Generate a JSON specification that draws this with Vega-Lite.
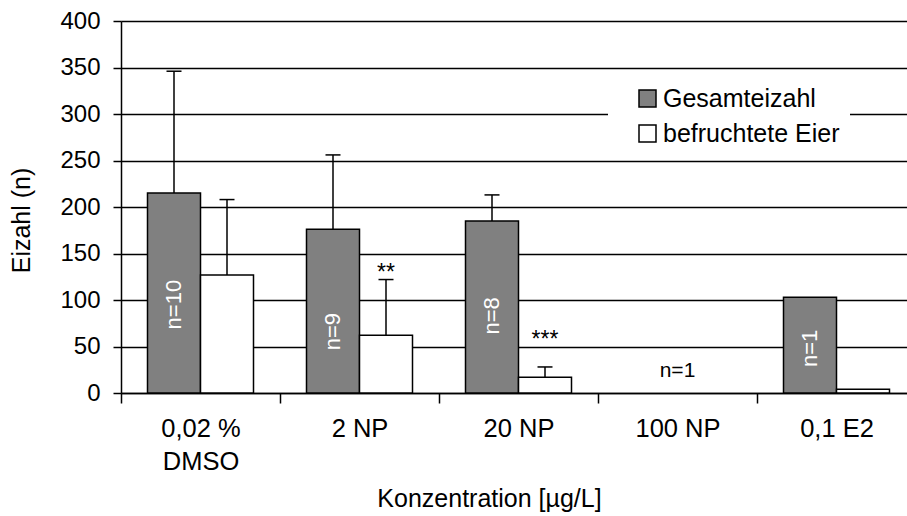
{
  "$schema": "https://vega.github.io/schema/vega-lite/v6.json",
  "width": 786,
  "height": 372,
  "autosize": {"type": "none"},
  "padding": {"left": 121, "top": 21, "right": 0, "bottom": 123},
  "background": "white",
  "config": {
    "font": "Liberation Sans",
    "view": {"stroke": null},
    "axis": {"labelColor": "black", "titleColor": "black", "titleFontWeight": "normal", "domainColor": "black", "tickColor": "black"}
  },
  "datasets": {
    "bars": [
      {"cat": "0,02 %\nDMSO", "series": "Gesamteizahl", "value": 215, "hi": 346},
      {"cat": "0,02 %\nDMSO", "series": "befruchtete Eier", "value": 127, "hi": 208},
      {"cat": "2 NP", "series": "Gesamteizahl", "value": 176, "hi": 256},
      {"cat": "2 NP", "series": "befruchtete Eier", "value": 62, "hi": 122},
      {"cat": "20 NP", "series": "Gesamteizahl", "value": 185, "hi": 213},
      {"cat": "20 NP", "series": "befruchtete Eier", "value": 17, "hi": 28},
      {"cat": "0,1 E2", "series": "Gesamteizahl", "value": 103, "hi": null},
      {"cat": "0,1 E2", "series": "befruchtete Eier", "value": 4, "hi": null}
    ],
    "nlabels": [
      {"cat": "0,02 %\nDMSO", "series": "Gesamteizahl", "label": "n=10", "pos": 95},
      {"cat": "2 NP", "series": "Gesamteizahl", "label": "n=9", "pos": 66},
      {"cat": "20 NP", "series": "Gesamteizahl", "label": "n=8", "pos": 83},
      {"cat": "0,1 E2", "series": "Gesamteizahl", "label": "n=1", "pos": 48}
    ],
    "stars": [
      {"cat": "2 NP", "series": "befruchtete Eier", "label": "**", "pos": 121},
      {"cat": "20 NP", "series": "befruchtete Eier", "label": "***", "pos": 49}
    ],
    "center": [
      {"cat": "100 NP", "label": "n=1", "pos": 17}
    ]
  },
  "layer": [
    {
      "data": {"name": "bars"},
      "mark": {"type": "bar", "stroke": "black", "strokeWidth": 1.5},
      "encoding": {
        "x": {
          "field": "cat", "type": "nominal", "sort": null,
          "scale": {"domain": ["0,02 %\nDMSO", "2 NP", "20 NP", "100 NP", "0,1 E2"], "range": [0, 795], "paddingInner": 0, "paddingOuter": 0},
          "axis": {
            "title": "Konzentration [µg/L]",
            "labelExpr": "split(datum.label, '\\n')",
            "labelFontSize": 25.5, "labelLineHeight": 33, "labelPadding": 13, "labelAngle": 0,
            "tickBand": "extent", "tickSize": 10, "tickWidth": 1.5,
            "domainWidth": 1.5, "grid": false,
            "titleFontSize": 25, "titlePadding": 12, "titleX": 368
          }
        },
        "xOffset": {"field": "series", "type": "nominal", "scale": {"domain": ["Gesamteizahl", "befruchtete Eier"], "paddingOuter": 0.5, "paddingInner": 0}},
        "y": {
          "field": "value", "type": "quantitative", "title": "Eizahl (n)",
          "scale": {"domain": [0, 400], "nice": false},
          "axis": {
            "values": [0, 50, 100, 150, 200, 250, 300, 350, 400],
            "grid": true, "gridColor": "black", "gridWidth": 1.3, "gridOpacity": 1,
            "tickSize": 8, "tickWidth": 1.5, "domainWidth": 1.5,
            "labelFontSize": 24, "labelPadding": 13,
            "titleFontSize": 25, "titlePadding": 25, "titleY": 199
          }
        },
        "color": {
          "field": "series", "type": "nominal",
          "scale": {"domain": ["Gesamteizahl", "befruchtete Eier"], "range": ["#808080", "#ffffff"]},
          "legend": {
            "orient": "none", "legendX": 487, "legendY": 55, "title": null,
            "fillColor": "white", "padding": 10,
            "symbolType": "square", "symbolSize": 289, "symbolStrokeColor": "black", "symbolStrokeWidth": 1.5,
            "labelFontSize": 25, "labelColor": "black", "labelLimit": 400, "rowPadding": 9, "labelOffset": 3, "symbolOffset": 17
          }
        }
      }
    },
    {
      "data": {"name": "bars"},
      "transform": [{"filter": "datum.hi != null"}],
      "mark": {"type": "rule", "color": "black", "strokeWidth": 1.5},
      "encoding": {
        "x": {"field": "cat", "type": "nominal", "sort": null},
        "xOffset": {"field": "series", "type": "nominal"},
        "y": {"field": "value", "type": "quantitative", "title": "Eizahl (n)"},
        "y2": {"field": "hi"}
      }
    },
    {
      "data": {"name": "bars"},
      "transform": [{"filter": "datum.hi != null"}],
      "mark": {"type": "tick", "color": "black", "size": 15, "thickness": 1.5, "opacity": 1},
      "encoding": {
        "x": {"field": "cat", "type": "nominal", "sort": null},
        "xOffset": {"field": "series", "type": "nominal"},
        "y": {"field": "hi", "type": "quantitative", "title": "Eizahl (n)"}
      }
    },
    {
      "data": {"name": "nlabels"},
      "mark": {"type": "text", "angle": 270, "align": "center", "baseline": "middle", "color": "white", "fontSize": 22},
      "encoding": {
        "x": {"field": "cat", "type": "nominal", "sort": null},
        "xOffset": {"field": "series", "type": "nominal"},
        "y": {"field": "pos", "type": "quantitative", "title": "Eizahl (n)"},
        "text": {"field": "label"}
      }
    },
    {
      "data": {"name": "stars"},
      "mark": {"type": "text", "align": "center", "baseline": "alphabetic", "color": "black", "fontSize": 23},
      "encoding": {
        "x": {"field": "cat", "type": "nominal", "sort": null},
        "xOffset": {"field": "series", "type": "nominal"},
        "y": {"field": "pos", "type": "quantitative", "title": "Eizahl (n)"},
        "text": {"field": "label"}
      }
    },
    {
      "data": {"name": "center"},
      "mark": {"type": "text", "align": "center", "baseline": "alphabetic", "color": "black", "fontSize": 21},
      "encoding": {
        "x": {"field": "cat", "type": "nominal", "sort": null},
        "y": {"field": "pos", "type": "quantitative", "title": "Eizahl (n)"},
        "text": {"field": "label"}
      }
    }
  ]
}
